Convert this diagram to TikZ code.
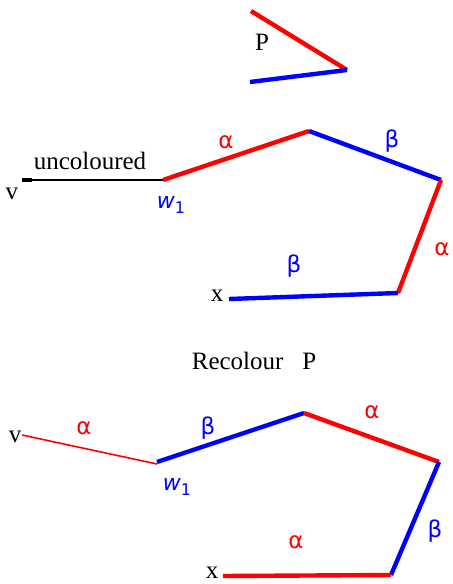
\documentclass[tikz,border=0pt]{standalone}
\usepackage{fontspec}
\setmainfont{Liberation Serif}
\newfontfamily\grkfont{DejaVu Sans}
\usetikzlibrary{calc}

\newcommand{\wone}{{\grkfont\itshape w}\raisebox{-0.45ex}{\grkfont\footnotesize 1}}

\begin{document}
\begin{tikzpicture}[x={(0.5pt,0pt)}, y={(0pt,-0.5pt)},
    redline/.style={red, line width=2.2pt},
    blueline/.style={blue, line width=2.2pt},
    redlbl/.style={red, font=\grkfont\fontsize{11.5}{13}\selectfont},
    bluelbl/.style={blue, font=\grkfont\fontsize{11.5}{13}\selectfont},
    txt/.style={font=\fontsize{12.5}{15}\selectfont}]

        \useasboundingbox (0,0) rectangle (452,584);

        %
        \coordinate (P1) at (251,11);
        \coordinate (P2) at (347,70);
        \coordinate (P3) at (250,82);

        \draw[redline] (P1) -- (P2);
        \draw[blueline] (P3) -- (P2);
        \node[txt] (pl) at (262,42) {P};

        %
        \coordinate (V) at (22,180);
        \coordinate (W) at (163,180);
        \coordinate (A) at (309,131);
        \coordinate (B) at (441,180);
        \coordinate (C) at (398,293);
        \coordinate (X) at (229,299);

        \draw[line width=1pt] (V) -- (W);
        \draw[line width=2pt] (V) -- ($(V)+(10,0)$);
        \draw[redline] (W) -- (A);
        \draw[blueline] (A) -- (B);
        \draw[redline] (B) -- (C);
        \draw[blueline] (C) -- (X);

        \node[txt] (vl) at (12,194) {v};
        \node[txt] (unc) at (90,161) {uncoloured};
        \node[blue, font=\fontsize{11}{13}\selectfont] (wl) at (171,205) {\wone};
        \node[txt] (xl) at (217,296) {x};
        \node[redlbl] (a1) at (226,142) {α};
        \node[bluelbl] (b1) at (392,141) {β};
        \node[redlbl] (a2) at (442,249) {α};
        \node[bluelbl] (b2) at (294,266) {β};

        %
        \node[txt] (rec) at (254,361) {Recolour\enspace\ P};

        %
        \coordinate (V') at (22,435);
        \coordinate (W') at (157,464);
        \coordinate (W'') at (157,462);
        \coordinate (A') at (304,413);
        \coordinate (B') at (439,462);
        \coordinate (C') at (391,575);
        \coordinate (X') at (223,576);

        \draw[red, line width=0.8pt] (V') -- (W');
        \draw[blueline] (W'') -- (A');
        \draw[redline] (A') -- (B');
        \draw[blueline] (B') -- (C');
        \draw[redline] (C') -- (X');

        \node[txt] (vl') at (15,437) {v};
        \node[blue, font=\fontsize{11}{13}\selectfont] (wl') at (177,487) {\wone};
        \node[txt] (xl') at (212,573) {x};
        \node[redlbl] (a3) at (84,428) {α};
        \node[bluelbl] (b3) at (208,428) {β};
        \node[redlbl] (a4) at (372,412) {α};
        \node[bluelbl] (b4) at (435,531) {β};
        \node[redlbl] (a5) at (296,542) {α};

    \end{tikzpicture}
\end{document}
